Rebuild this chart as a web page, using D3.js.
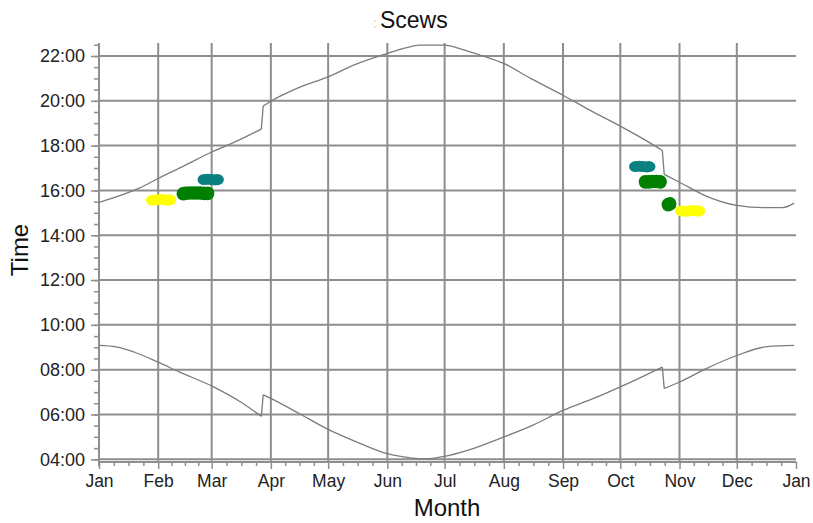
<!DOCTYPE html>
<html>
<head>
<meta charset="utf-8">
<script src="https://cdn.jsdelivr.net/npm/d3@7"></script>
<style>
  body { margin: 0; background: #fff; }
  text { font-family: "Liberation Sans", Arial, sans-serif; }
</style>
</head>
<body>
<div id="chart"></div>
<script>
// sunset / sunrise clock times through the year (mm-dd, hh:mm)
var sunsetDates = ["01-01","01-22","02-01","02-15","03-01","03-15","03-27","03-28","04-01","04-15",
                   "05-01","05-15","06-01","06-10","06-18","07-01","07-10","07-20","08-01","08-15",
                   "09-01","09-15","10-01","10-15","10-23","10-24","11-01","11-15","12-01","12-15",
                   "12-25","12-31"];
var sunsetTimes = ["15:28","16:06","16:32","17:07","17:43","18:14","18:44","19:46","19:59","20:34",
                   "21:04","21:37","22:07","22:21","22:29","22:29","22:18","22:02","21:40","21:00",
                   "20:15","19:35","18:52","18:12","17:47","16:43","16:22","15:45","15:20","15:14",
                   "15:14","15:26"];

var sunriseDates = ["01-01","01-10","01-20","02-01","02-12","03-02","03-16","03-27","03-28","04-01","04-16",
                    "05-01","05-18","06-01","06-13","06-21","07-01","07-13","08-01","08-16","09-01",
                    "09-17","10-01","10-23","10-24","11-01","11-15","12-01","12-17","12-31"];
var sunriseTimes = ["09:05","09:01","08:46","08:20","07:54","07:14","06:34","05:55","06:53","06:43","06:02",
                    "05:20","04:42","04:15","04:04","04:01","04:08","04:24","05:00","05:31","06:11",
                    "06:43","07:14","08:07","07:10","07:27","08:03","08:38","09:02","09:05"];

// clock change days (first day of new offset)
var dstChanges = ["03-28","10-24"];

// observations
var yellowDates = ["01-29","01-31","02-02","02-04","02-06","02-07","11-02","11-04","11-06","11-08","11-10","11-11"];
var yellowTimes = ["15:34","15:35","15:36","15:35","15:34","15:35","15:05","15:04","15:05","15:06","15:05","15:05"];
var greenDates  = ["02-14","02-15","02-17","02-19","02-21","02-23","02-25","02-27",
                   "10-14","10-16","10-18","10-20","10-22","10-26","10-27"];
var greenTimes  = ["15:51","15:52","15:53","15:53","15:53","15:53","15:52","15:52",
                   "16:23","16:23","16:24","16:24","16:23","15:22","15:24"];
var tealDates   = ["02-25","02-27","03-01","03-03","03-04","10-09","10-11","10-13","10-15","10-16"];
var tealTimes   = ["16:29","16:30","16:29","16:28","16:29","17:04","17:05","17:04","17:03","17:04"];

var yTicks = [4, 6, 8, 10, 12, 14, 16, 18, 20, 22];

var w = 813, h = 523;
var padL = 99, padR = 796, padT = 43, padB = 462;
var year = 2010;

var parseDay = function(s) { return new Date(year, +s.substring(0,2) - 1, +s.substring(3,5)); };
var parseTime = function(s) { return +s.substring(0,2) + +s.substring(3,5) / 60; };
var toPoints = function(ds, ts) {
    return ds.map(function(d, i) { return {date: parseDay(d), time: parseTime(ts[i])}; });
};

var sunset = toPoints(sunsetDates, sunsetTimes);
var sunrise = toPoints(sunriseDates, sunriseTimes);
var changes = dstChanges.map(parseDay);

var xscale = d3.scaleTime()
    .domain([new Date(year, 0, 1), new Date(year + 1, 0, 1)])
    .range([padL, padR]);
var yscale = d3.scaleLinear()
    .domain([3.88, 22.58])
    .range([padB, padT]);

var svg = d3.select("#chart").append("svg")
    .attr("width", w)
    .attr("height", h);

var months = d3.timeMonth.range(new Date(year, 0, 1), new Date(year + 1, 0, 2));

// grid
var gridColor = "#8e8e8e";
svg.append("g").selectAll("line")
    .data(months.slice(1, 12))
    .enter().append("line")
    .attr("x1", function(d) { return xscale(d); })
    .attr("x2", function(d) { return xscale(d); })
    .attr("y1", padT)
    .attr("y2", padB)
    .attr("stroke", gridColor)
    .attr("stroke-width", 2);

svg.append("g").selectAll("line")
    .data(yTicks)
    .enter().append("line")
    .attr("x1", padL)
    .attr("x2", padR)
    .attr("y1", function(d) { return yscale(d); })
    .attr("y2", function(d) { return yscale(d); })
    .attr("stroke", gridColor)
    .attr("stroke-width", 2);

// axes
var pad = function(n) { return (n < 10 ? "0" : "") + n + ":00"; };

var minorY = d3.range(4, 22.6, 0.5);
svg.append("g")
    .attr("transform", "translate(" + padL + ",0)")
    .call(d3.axisLeft(yscale).tickValues(minorY).tickSize(5).tickFormat(""))
    .call(function(g) { g.select(".domain").remove(); })
    .selectAll("line").attr("stroke", gridColor).attr("stroke-width", 1.5);

var yaxis = svg.append("g")
    .attr("transform", "translate(" + padL + ",0)")
    .call(d3.axisLeft(yscale).tickValues(yTicks).tickSize(8).tickPadding(6).tickFormat(pad));
yaxis.select(".domain").remove();
yaxis.selectAll("line").attr("stroke", gridColor).attr("stroke-width", 1.5);
yaxis.selectAll("text").attr("font-size", "18px").attr("fill", "#222")
    .style("font-family", "'Liberation Sans', Arial, sans-serif");

svg.append("line")
    .attr("x1", padL).attr("x2", padL)
    .attr("y1", padT).attr("y2", padB + 4)
    .attr("stroke", gridColor).attr("stroke-width", 2);

var minorX = [];
months.slice(0, 12).forEach(function(m) {
    var next = d3.timeMonth.offset(m, 1);
    for (var k = 1; k < 4; k++) minorX.push(new Date(+m + (next - m) * k / 4));
});
svg.append("g")
    .attr("transform", "translate(0," + padB + ")")
    .call(d3.axisBottom(xscale).tickValues(minorX).tickSize(4).tickFormat(""))
    .call(function(g) { g.select(".domain").remove(); })
    .selectAll("line").attr("stroke", gridColor).attr("stroke-width", 1.5);

var xaxis = svg.append("g")
    .attr("transform", "translate(0," + padB + ")")
    .call(d3.axisBottom(xscale).tickValues(months).tickSize(7).tickPadding(6)
          .tickFormat(d3.timeFormat("%b")));
xaxis.select(".domain").remove();
xaxis.selectAll("line").attr("stroke", gridColor).attr("stroke-width", 1.5);
xaxis.selectAll("text").attr("font-size", "17.5px").attr("fill", "#222")
    .style("font-family", "'Liberation Sans', Arial, sans-serif");

svg.append("line")
    .attr("x1", padL).attr("x2", padR)
    .attr("y1", padB).attr("y2", padB)
    .attr("stroke", gridColor).attr("stroke-width", 2);

// sun curves: smooth between clock changes, straight jump at each change
var smooth = d3.line()
    .curve(d3.curveMonotoneX)
    .x(function(d) { return xscale(d.date); })
    .y(function(d) { return yscale(d.time); });
var straight = d3.line()
    .x(function(d) { return xscale(d.date); })
    .y(function(d) { return yscale(d.time); });

[sunset, sunrise].forEach(function(s) {
    var segs = [[]];
    s.forEach(function(p) {
        if (changes.some(function(c) { return +c === +p.date; })) segs.push([]);
        segs[segs.length - 1].push(p);
    });
    segs.forEach(function(seg, i) {
        svg.append("path")
            .datum(seg)
            .attr("d", smooth)
            .attr("fill", "none")
            .attr("stroke", "#7c7c7c")
            .attr("stroke-width", 1.3);
        if (i > 0) {
            var prev = segs[i - 1];
            svg.append("path")
                .datum([prev[prev.length - 1], seg[0]])
                .attr("d", straight)
                .attr("fill", "none")
                .attr("stroke", "#7c7c7c")
                .attr("stroke-width", 1.3);
        }
    });
});

// observation markers
var obs = [
    {pts: toPoints(yellowDates, yellowTimes), color: "#ffff00", ry: 5.5},
    {pts: toPoints(greenDates, greenTimes), color: "#007f00", ry: 6.8},
    {pts: toPoints(tealDates, tealTimes), color: "#0a8080", ry: 5.5}
];
obs.forEach(function(o) {
    svg.append("g").selectAll("ellipse")
        .data(o.pts)
        .enter().append("ellipse")
        .attr("cx", function(d) { return xscale(d.date); })
        .attr("cy", function(d) { return yscale(d.time); })
        .attr("rx", 6.5)
        .attr("ry", o.ry)
        .attr("fill", o.color);
});

// titles
var title = svg.append("text")
    .attr("x", 373)
    .attr("y", 28)
    .attr("font-size", "23px")
    .attr("fill", "#111");
title.append("tspan").attr("fill", "#cfcfcf").attr("font-size", "14px").text(":");
title.append("tspan").attr("dx", 3).text("Scews");

svg.append("text")
    .attr("transform", "translate(28,250) rotate(-90)")
    .attr("text-anchor", "middle")
    .attr("font-size", "24px")
    .attr("fill", "#111")
    .text("Time");

svg.append("text")
    .attr("x", 447)
    .attr("y", 516)
    .attr("text-anchor", "middle")
    .attr("font-size", "24px")
    .attr("fill", "#111")
    .text("Month");
</script>
</body>
</html>
